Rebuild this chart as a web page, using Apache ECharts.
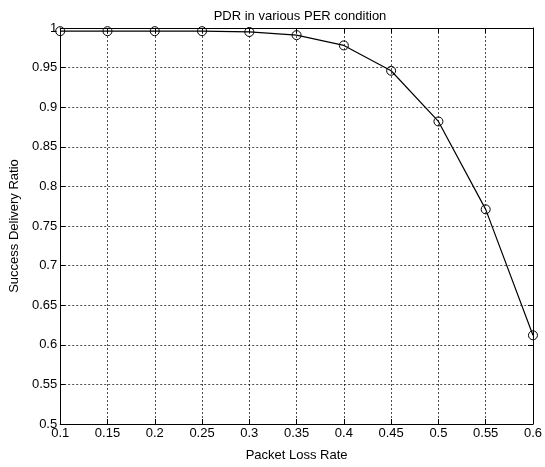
<!DOCTYPE html>
<html>
<head>
<meta charset="utf-8">
<script src="https://cdn.jsdelivr.net/npm/echarts@6/dist/echarts.min.js"></script>
<style>
  html, body { margin: 0; padding: 0; background: #fff; }
  #chart { width: 545px; height: 467px; }
</style>
</head>
<body>
<div id="chart"></div>
<script>
// packet loss rate vs success delivery ratio
const lossRate = [0.1, 0.15, 0.2, 0.25, 0.3, 0.35, 0.4, 0.45, 0.5, 0.55, 0.6];
const deliveryRatio = [0.996, 0.996, 0.996, 0.996, 0.995, 0.991, 0.978, 0.946, 0.882, 0.771, 0.612];

const FONT = 'Liberation Sans';
const FS = 13;
const fmt = v => String(+v.toFixed(2));

const chart = echarts.init(document.getElementById('chart'));

const gridLine = { show: true, lineStyle: { color: '#000', type: [2, 2], width: 1, opacity: 0.7 } };
const frame = { show: true, onZero: false, lineStyle: { color: '#000', width: 1 } };
const tick = { show: true, inside: true, length: 5, lineStyle: { color: '#000' } };

chart.setOption({
  animation: false,
  backgroundColor: '#fff',
  title: {
    text: 'PDR in various PER condition',
    left: 295, top: 5, textAlign: 'center',
    textStyle: { fontFamily: FONT, fontSize: FS, fontWeight: 'normal', color: '#000' }
  },
  grid: { left: 54, right: 9, top: 28, bottom: 34 },
  xAxis: [{
    type: 'value', min: 0.1, max: 0.6, interval: 0.05,
    name: 'Packet Loss Rate', nameLocation: 'middle', nameGap: 25,
    nameTextStyle: { fontFamily: FONT, fontSize: FS, color: '#000' },
    axisLine: frame, axisTick: tick, splitLine: gridLine,
    axisLabel: { formatter: fmt, fontFamily: FONT, fontSize: FS, color: '#000', margin: 3 }
  }, {
    type: 'value', position: 'top', min: 0.1, max: 0.6, interval: 0.05,
    axisLine: frame, axisTick: tick, splitLine: { show: false }, axisLabel: { show: false }
  }],
  yAxis: [{
    type: 'value', min: 0.5, max: 1, interval: 0.05,
    name: 'Success Delivery Ratio', nameLocation: 'middle', nameGap: 32,
    nameTextStyle: { fontFamily: FONT, fontSize: FS, color: '#000' },
    axisLine: frame, axisTick: tick, splitLine: gridLine,
    axisLabel: { formatter: fmt, fontFamily: FONT, fontSize: FS, color: '#000', margin: 3 }
  }, {
    type: 'value', position: 'right', min: 0.5, max: 1, interval: 0.05,
    axisLine: frame, axisTick: tick, splitLine: { show: false }, axisLabel: { show: false }
  }],
  series: [{
    type: 'line',
    data: lossRate.map((x, i) => [x, deliveryRatio[i]]),
    symbol: 'circle', symbolSize: 9,
    lineStyle: { color: '#000', width: 1.2 },
    itemStyle: { color: 'transparent', borderColor: '#000', borderWidth: 1 },
    z: 5
  }]
});
</script>
</body>
</html>
